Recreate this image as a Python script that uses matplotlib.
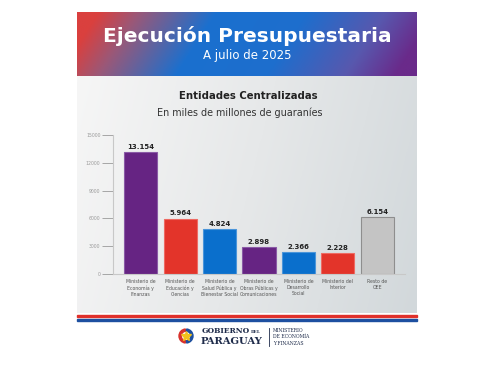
import matplotlib.pyplot as plt
import numpy as np
from matplotlib.patches import Rectangle, Wedge
from matplotlib.colors import LinearSegmentedColormap

# data
categories = ["Ministerio de\nEconomía y\nFinanzas",
              "Ministerio de\nEducación y\nCiencias",
              "Ministerio de\nSalud Pública y\nBienestar Social",
              "Ministerio de\nObras Públicas y\nComunicaciones",
              "Ministerio de\nDesarrollo\nSocial",
              "Ministerio del\nInterior",
              "Resto de\nOEE"]
values = [13154, 5964, 4824, 2898, 2366, 2228, 6154]
value_labels = ["13.154", "5.964", "4.824", "2.898", "2.366", "2.228", "6.154"]
yticks = [0, 3000, 6000, 9000, 12000, 15000]

colors = ["#662483", "#E3342A", "#0A6FCC", "#662483", "#0A6FCC", "#E3342A", "#C4C4C4"]
edges = ["#8A5AA6", "#EE6A62", "#4A95DA", "#8A5AA6", "#4A95DA", "#EE6A62", "#8E8E8E"]

fig = plt.figure(figsize=(4.95, 3.65), dpi=100)
fig.patch.set_facecolor("white")

# background layer in pixel coordinates
bg = fig.add_axes([0, 0, 1, 1])
bg.set_xlim(0, 495)
bg.set_ylim(365, 0)
bg.axis("off")

# header gradient
hcm = LinearSegmentedColormap.from_list("hdr", [(0, "#DA403E"), (0.12, "#9A5878"), (0.35, "#1A70CF"),
                                                (0.62, "#1E6ECD"), (0.85, "#5858AE"), (1, "#6A2A8A")])
xx, yy = np.meshgrid(np.linspace(0, 1, 300), np.linspace(0, 1, 60))
t = np.clip(xx + 0.12 * (yy - 0.5), 0, 1)
bg.imshow(hcm(t), extent=(77, 417, 76, 12), aspect="auto", interpolation="bilinear", zorder=1)

# panel gradient
pcm = LinearSegmentedColormap.from_list("pnl", ["#F6F6F6", "#E6E8E9", "#D2D8DB"])
xx, yy = np.meshgrid(np.linspace(0, 1, 300), np.linspace(0, 1, 100))
t = np.clip(0.85 * xx + 0.15 * yy, 0, 1)
bg.imshow(pcm(t), extent=(77, 417, 313, 76), aspect="auto", interpolation="bilinear", zorder=1)

# flag stripes
bg.add_patch(Rectangle((77, 314.8), 340, 2.0, color="#E0312B", zorder=2))
bg.add_patch(Rectangle((77, 319.0), 340, 2.2, color="#1D4FA0", zorder=2))

bg.text(247, 36, "Ejecución Presupuestaria", color="white", fontsize=14.5, fontweight="bold",
        ha="center", va="center", zorder=3)
bg.text(247, 56, "A julio de 2025", color="white", fontsize=8.5, ha="center", va="center", zorder=3)
bg.text(248, 96, "Entidades Centralizadas", color="#222222", fontsize=7.3, fontweight="bold",
        ha="center", va="center", zorder=3)
bg.text(240, 113, "En miles de millones de guaraníes", color="#333333", fontsize=6.9,
        ha="center", va="center", zorder=3)

# logo
bg.add_patch(Wedge((186, 336), 7, 95, 265, width=2.2, color="#D8312B", zorder=3))
bg.add_patch(Wedge((186, 336), 7, -85, 85, width=2.2, color="#1D4FA0", zorder=3))
bg.plot(186, 336, marker="*", markersize=7, color="#F2C21B", zorder=4)
bg.text(202, 331, "GOBIERNO", family="DejaVu Serif", fontsize=5.4, fontweight="bold",
        color="#1E2B4A", va="center", zorder=3)
bg.text(251, 332, "DEL", family="DejaVu Serif", fontsize=3, fontweight="bold",
        color="#1E2B4A", va="center", zorder=3)
bg.text(201, 341, "PARAGUAY", family="DejaVu Serif", fontsize=7.2, fontweight="bold",
        color="#1E2B4A", va="center", zorder=3)
bg.plot([269, 269], [328, 346], color="#1E2B4A", lw=0.6, zorder=3)
bg.text(273, 337, "MINISTERIO\nDE ECONOMÍA\nY FINANZAS", family="DejaVu Serif", fontsize=3.3,
        color="#1E2B4A", va="center", linespacing=1.3, zorder=3)

# chart
ax = fig.add_axes([113 / 495, 1 - 274 / 365, (405 - 113) / 495, (274 - 135) / 365])
ax.patch.set_alpha(0)
x = np.arange(len(values))
ax.bar(x, values, width=0.84, color=colors, edgecolor=edges, linewidth=0.8)
for xi, v, lab in zip(x, values, value_labels):
    ax.text(xi, v + 250, lab, ha="center", va="bottom", fontsize=5, fontweight="bold", color="#222222")
for xi, c in zip(x, categories):
    ax.text(xi, -500, c, ha="center", va="top", fontsize=3.3, color="#555555", linespacing=1.35)

ax.set_xlim(-0.7, 6.7)
ax.set_ylim(0, 15000)
ax.set_xticks([])
ax.set_yticks(yticks)
ax.set_yticklabels([str(v) for v in yticks], fontsize=3.3, color="#9A9A9A")
ax.tick_params(axis="y", length=8, width=0.6, color="#9A9A9A", pad=1)
for s in ["top", "right"]:
    ax.spines[s].set_visible(False)
ax.spines["left"].set_color("#C8C8C8")
ax.spines["bottom"].set_color("#C8C8C8")
ax.spines["left"].set_linewidth(0.8)
ax.spines["bottom"].set_linewidth(0.8)

fig.savefig("out.png", dpi=100)
